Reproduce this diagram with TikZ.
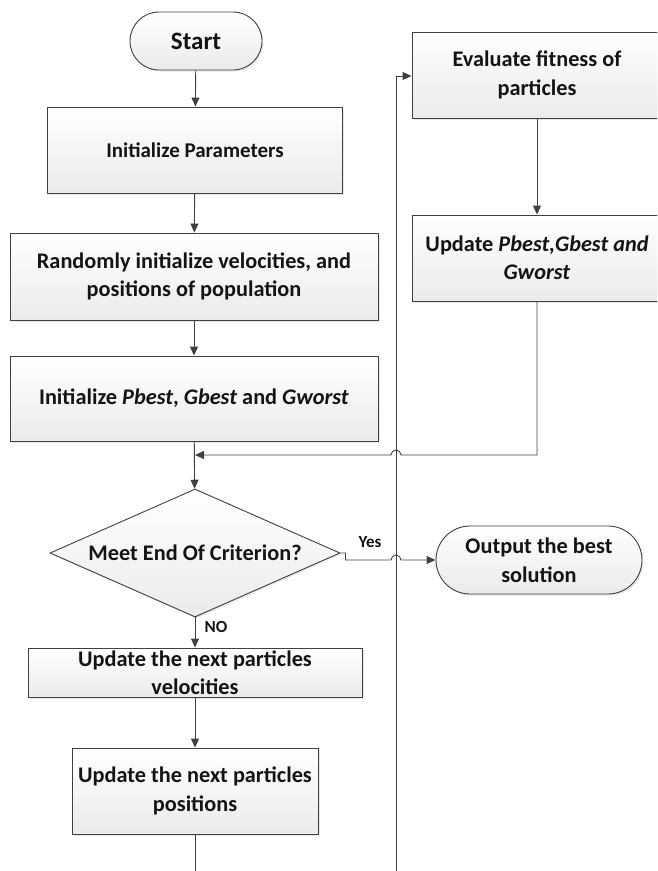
\documentclass[tikz,border=0pt]{standalone}
\usepackage{fontspec}
\setmainfont{Carlito}
\usetikzlibrary{shapes.geometric,shapes.misc,arrows.meta,shadows}
\definecolor{ln}{RGB}{64,64,64}
\definecolor{tx}{RGB}{20,20,20}
\begin{document}
\begin{tikzpicture}[x=1pt,y=-1pt,
  box/.style={draw=ln, line width=0.9pt, top color=white, bottom color=gray!16,
    inner sep=0pt, align=center, text=tx, font=\bfseries\fontsize{22.3}{28.5}\selectfont,
    drop shadow={opacity=0.18, shadow xshift=1.5pt, shadow yshift=-1.5pt}},
  pill/.style={box, rounded rectangle},
  arr/.style={draw=ln, line width=0.9pt, -{Triangle[length=9pt,width=8pt]}},
  lin/.style={draw=ln, line width=0.9pt},
  lab/.style={text=tx, font=\bfseries\fontsize{17}{19}\selectfont, inner sep=0pt}]
\useasboundingbox (0,0) rectangle (657,871);
\clip (0,0) rectangle (657,871);
\node[pill, minimum width=132pt, minimum height=58pt, font=\bfseries\fontsize{25}{30}\selectfont] (start) at (196,41) {Start};
\node[box, minimum width=295pt, minimum height=86pt, font=\bfseries\fontsize{21}{26}\selectfont] (init) at (195,150) {Initialize Parameters};
\node[box, minimum width=368pt, minimum height=87pt] (rand) at (194,276.5) {Randomly initialize velocities, and\\positions of population};
\node[box, minimum width=368pt, minimum height=85pt] (pinit) at (194,398.5) {Initialize \textit{Pbest}, \textit{Gbest} and \textit{Gworst}};
\node[box, diamond, aspect=2.27, minimum width=290pt, minimum height=128pt] (dec) at (195,553) {Meet End Of Criterion?};
\node[pill, minimum width=206pt, minimum height=68pt] (out) at (539,560) {Output the best\\solution};
\node[box, minimum width=334pt, minimum height=49pt] (vel) at (195,672.5) {Update the next particles\\velocities};
\node[box, minimum width=246pt, minimum height=86pt] (pos) at (195,791) {Update the next particles\\positions};
\node[box, minimum width=250pt, minimum height=86pt] (eval) at (537,75) {Evaluate fitness of\\particles};
\node[box, minimum width=250pt, minimum height=86pt] (upd) at (537,258) {Update \textit{Pbest,Gbest and}\\\textit{Gworst}};
\coordinate (merge) at (195,455);
\coordinate (b1) at (195,875);
\coordinate (b2) at (396,875);
\coordinate (top) at (396,76);
\draw[arr] (start) -- (init);
\draw[arr] (init) -- (rand);
\draw[arr] (rand) -- (pinit);
\draw[arr] (pinit) -- (dec);
\draw[arr] (upd.south) -- (537,455) -- (401,455) arc[start angle=0,end angle=-180,radius=5] -- (merge);
\draw[arr] (dec.east) -- ++(5,0) |- (391,560) arc[start angle=180,end angle=360,radius=5] -- (out.west);
\draw[arr] (dec) -- (vel);
\draw[arr] (vel) -- (pos);
\draw[lin] (pos) -- (b1);
\draw[arr] (b2) -- (top) -- (eval.west |- top);
\draw[arr] (eval) -- (upd);
\node[lab] (yes) at (370,542) {Yes};
\node[lab] (no) at (216,627) {NO};
\end{tikzpicture}
\end{document}
